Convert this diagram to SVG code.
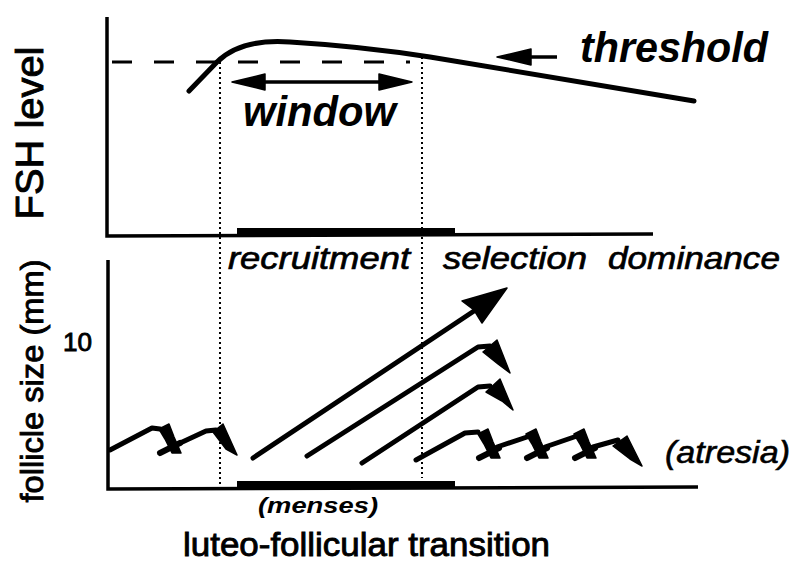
<svg xmlns="http://www.w3.org/2000/svg" xmlns:xlink="http://www.w3.org/1999/xlink" width="798" height="562" viewBox="0 0 798 562">
<style>
.ax{stroke:#000;stroke-width:3.5;fill:none}
.ln{stroke:#000;stroke-width:5;fill:none;stroke-linecap:round;stroke-linejoin:round}
.dot{stroke:#000;stroke-width:2;stroke-dasharray:2,3;fill:none}
.hd{fill:#000;stroke:#000;stroke-width:1.5;stroke-linejoin:round}
.t{font-family:"Liberation Sans",Arial,sans-serif;fill:#000}
.bi{font-style:italic;font-weight:bold}
.it{font-style:italic}
.hv{stroke:#000;stroke-width:0.9}
</style>
<defs>
<g id="xm">
<polygon class="hd" points="-11,-13 -1,-18 4,-5 11,11 2,11 -5,-3"/>
<line x1="-10" y1="11" x2="10" y2="1" stroke="#000" stroke-width="6" stroke-linecap="round"/>
</g>
</defs>
<rect width="798" height="562" fill="#fff"/>

<g id="fsh-panel">
<path class="ax" d="M107,17 L107,236 L653,234"/>
<rect x="237" y="228" width="218" height="8" fill="#000"/>
<line x1="112" y1="62" x2="410" y2="62" stroke="#000" stroke-width="3" stroke-dasharray="20,22"/>
<path class="ln" d="M189,91 L217,62 C235,44 262,40 290,42 C340,45 385,50 430,57 L694,101"/>
<g id="threshold-arrow">
<line x1="520" y1="57" x2="557" y2="57" stroke="#000" stroke-width="3.5"/>
<polygon class="hd" points="497,57 531,49 531,65"/>
</g>
<text class="t bi" x="580" y="62" font-size="42" textLength="188" lengthAdjust="spacingAndGlyphs">threshold</text>
<g id="window-arrow">
<line x1="255" y1="82" x2="390" y2="82" stroke="#000" stroke-width="3.5"/>
<polygon class="hd" points="232,82 265,74 265,90"/>
<polygon class="hd" points="412,82 379,74 379,90"/>
</g>
<text class="t bi" x="243" y="126" font-size="42" textLength="153" lengthAdjust="spacingAndGlyphs">window</text>
<text class="t hv" transform="translate(43,133) rotate(-90)" text-anchor="middle" font-size="38" textLength="173" lengthAdjust="spacingAndGlyphs">FSH level</text>
</g>

<g id="phase-labels">
<text class="t it" x="228" y="269" font-size="32" textLength="182" lengthAdjust="spacingAndGlyphs" stroke="#000" stroke-width="0.7">recruitment</text>
<text class="t it" x="443" y="269" font-size="32" textLength="144" lengthAdjust="spacingAndGlyphs" stroke="#000" stroke-width="0.7">selection</text>
<text class="t it" x="608" y="269" font-size="32" textLength="172" lengthAdjust="spacingAndGlyphs" stroke="#000" stroke-width="0.7">dominance</text>
</g>

<g id="dividers">
<line class="dot" x1="220" y1="62" x2="220" y2="485"/>
<line class="dot" x1="422" y1="57" x2="422" y2="478"/>
</g>

<g id="follicle-panel">
<path class="ax" d="M108,260 L108,489 L698,487"/>
<rect x="237" y="481" width="218" height="8" fill="#000"/>
<text class="t hv" x="63" y="351" font-size="26" textLength="29" lengthAdjust="spacingAndGlyphs">10</text>
<text class="t hv" transform="translate(43,381) rotate(-90)" text-anchor="middle" font-size="32" textLength="243" lengthAdjust="spacingAndGlyphs">follicle size (mm)</text>
<text class="t bi" x="258" y="513" font-size="22" textLength="120" lengthAdjust="spacingAndGlyphs">(menses)</text>
<text class="t hv" x="183" y="556" font-size="33" textLength="367" lengthAdjust="spacingAndGlyphs">luteo-follicular transition</text>
<text class="t it" x="665" y="463" font-size="32" textLength="125" lengthAdjust="spacingAndGlyphs" stroke="#000" stroke-width="0.6">(atresia)</text>
</g>

<g id="connectors">
<g id="left-follicles">
<polyline class="ln" points="110,450 152,428 160,429"/>
<use xlink:href="#xm" href="#xm" x="170" y="442"/>
<polyline class="ln" points="178,444 206,431 216,430"/>
<polygon class="hd" points="213,432 223,424 237,455 226,449"/>
</g>
<g id="dominant-follicle">
<line class="ln" x1="253" y1="458" x2="474" y2="311"/>
<polygon class="hd" points="507,288 482,323 474,310 462,301"/>
</g>
<g id="follicle-2">
<polyline class="ln" points="307,456 478,347 490,346"/>
<polygon class="hd" points="483,352 497,340 510,373 498,364"/>
</g>
<g id="follicle-3">
<polyline class="ln" points="362,463 478,387 490,386"/>
<polygon class="hd" points="486,392 500,379 513,410 502,401"/>
</g>
<g id="atresia-follicle">
<polyline class="ln" points="416,460 465,433 478,432"/>
<use xlink:href="#xm" href="#xm" x="489" y="447"/>
<polyline class="ln" points="497,447 530,436 536,437"/>
<use xlink:href="#xm" href="#xm" x="537" y="447"/>
<polyline class="ln" points="545,447 577,436 583,437"/>
<use xlink:href="#xm" href="#xm" x="585" y="447"/>
<polyline class="ln" points="593,447 618,440"/>
<polygon class="hd" points="613,446 627,436 642,466 630,459"/>
</g>
</g>
</svg>
